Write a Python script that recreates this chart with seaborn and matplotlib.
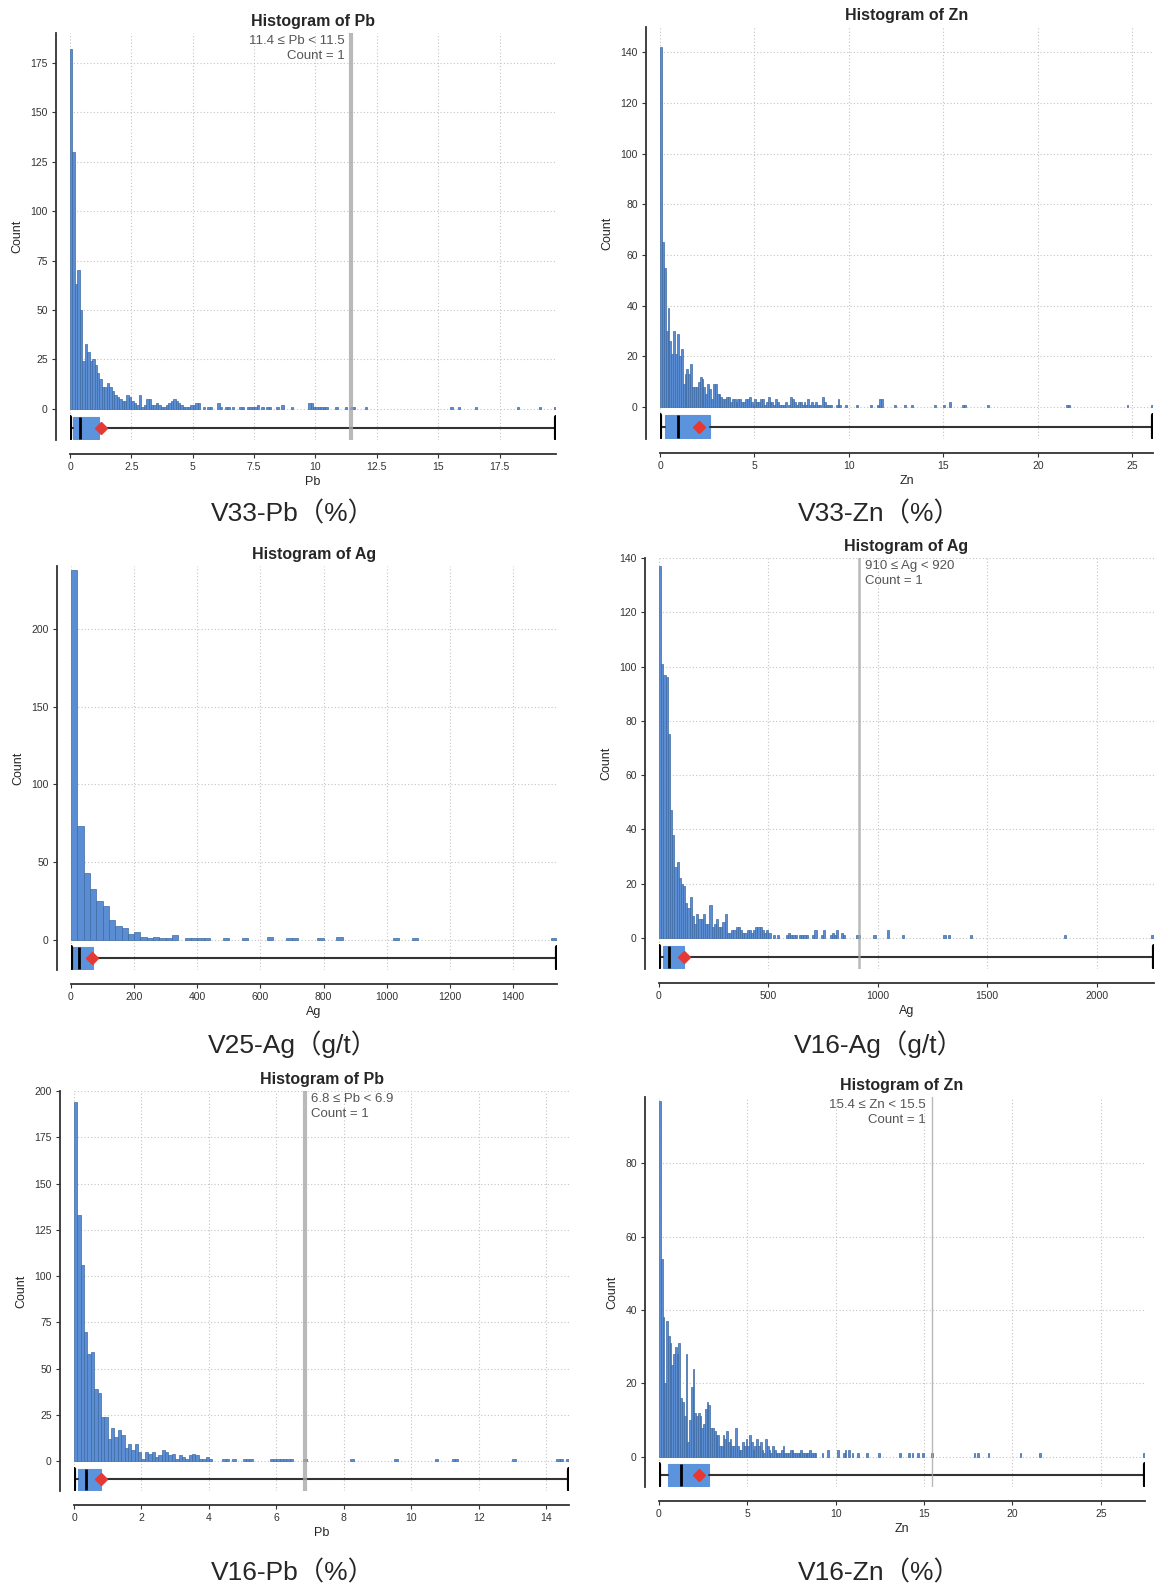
import numpy as np
import pandas as pd
import seaborn as sns
import matplotlib.pyplot as plt
from matplotlib.ticker import FuncFormatter

# ---- bin counts ----
# V33 Pb (%), 0.1 bins
pb33_head = [182, 130, 63, 70, 50, 24, 33, 29, 24, 25, 22, 18, 15, 11, 11, 13, 11, 9, 7, 6,
             5, 4, 4, 7, 6, 4, 3, 2, 7, 1, 2, 5, 5, 2, 2, 3, 2, 1, 1, 2,
             3, 4, 5, 4, 3, 2, 1, 1, 1, 2, 2, 3, 3]
pb33_tail_at = [5.4, 5.6, 5.7, 6.0, 6.1, 6.3, 6.4, 6.6, 6.9, 7.0, 7.2, 7.3, 7.4, 7.5, 7.6, 7.8, 8.0, 8.1,
                8.4, 8.6, 9.0, 9.7, 9.8, 9.9, 10.0, 10.1, 10.2, 10.3, 10.4, 10.8, 11.2, 11.4, 11.5, 12.0,
                15.5, 15.8, 16.5, 18.2, 19.1, 19.7]
pb33_tail_n = [1, 1, 1, 3, 1, 1, 1, 1, 1, 1, 1, 1, 1, 1, 2, 1, 1, 1,
               1, 2, 1, 3, 3, 1, 1, 1, 1, 1, 1, 1, 1, 1, 1, 1,
               1, 1, 1, 1, 1, 1]
pb33_box = [0.0, 0.11, 0.42, 1.18, 19.8]   # min, q1, median, q3, max
pb33_mean = 1.26

# V33 Zn (%), 0.1 bins
zn33_head = [142, 65, 55, 30, 39, 26, 21, 30, 21, 29, 20, 23, 9, 13, 15, 13, 17, 8, 8, 8,
             10, 12, 11, 8, 5, 9, 7, 3, 9, 9, 5, 5, 4, 3, 3, 4, 4, 2, 3, 3,
             2, 3, 3, 2, 2, 3, 3, 4, 2, 1, 3, 2, 2, 3, 3, 1, 2, 4, 2, 2,
             1, 3, 2, 1, 1, 1, 2, 0, 1, 4, 3, 2, 1, 2, 2, 1, 2, 1, 3, 1,
             2, 1, 2, 1, 1, 0, 4, 2, 1, 1, 1, 0, 0, 1, 3, 1, 0, 0, 1, 0]
zn33_tail_at = [10.4, 11.1, 11.5, 11.6, 11.7, 12.4, 12.9, 13.3, 14.5, 15.0, 15.3, 16.0, 16.1,
                17.3, 21.5, 21.6, 24.7, 26.0]
zn33_tail_n = [1, 1, 1, 3, 3, 1, 1, 1, 1, 1, 2, 1, 1, 1, 1, 1, 1, 1]
zn33_box = [0.0, 0.24, 0.97, 2.64, 26.1]
zn33_mean = 2.09

# V25 Ag (g/t), 20 g/t bins
ag25_head = [238, 73, 43, 33, 25, 22, 13, 9, 8, 4, 5, 2, 1, 2, 1, 1, 3]
ag25_tail_at = [360, 380, 400, 420, 480, 540, 620, 680, 700, 780, 840, 1020, 1080, 1520]
ag25_tail_n = [1, 1, 1, 1, 1, 1, 2, 1, 1, 1, 2, 1, 1, 1]
ag25_box = [0.0, 4.0, 25.0, 71.0, 1539.0]
ag25_mean = 65.0

# V16 Ag (g/t), 10 g/t bins
ag16_head = [137, 101, 97, 96, 75, 47, 38, 26, 28, 22, 20, 19, 13, 11, 15, 8, 5, 9, 7, 7,
             9, 5, 5, 12, 4, 5, 7, 4, 4, 6, 9, 2, 2, 3, 3, 4, 4, 3, 2, 2,
             3, 3, 2, 3, 4, 4, 4, 3, 2, 3]
ag16_tail_at = [500, 520, 540, 580, 590, 600, 610, 620, 640, 650, 660, 670, 700, 710, 740, 750,
                780, 790, 800, 810, 830, 840, 900, 910, 980, 1040, 1110, 1300, 1320, 1420, 1850, 2250]
ag16_tail_n = [2, 1, 1, 1, 2, 1, 1, 1, 1, 1, 1, 1, 1, 3, 1, 3,
               1, 2, 1, 3, 2, 1, 1, 1, 1, 3, 1, 1, 1, 1, 1, 1]
ag16_box = [0.0, 19.0, 46.0, 116.0, 2262.0]
ag16_mean = 114.0

# V16 Pb (%), 0.1 bins
pb16_head = [194, 133, 106, 70, 58, 59, 39, 37, 24, 24, 12, 18, 13, 17, 14, 7, 9, 6, 9, 5,
             1, 5, 4, 5, 2, 3, 6, 5, 3, 4, 1, 3, 2, 1, 3, 4, 3, 1, 1, 2, 1]
pb16_tail_at = [4.4, 4.5, 4.7, 5.0, 5.1, 5.2, 5.8, 5.9, 6.0, 6.1, 6.2, 6.3, 6.4, 6.8,
                8.2, 9.5, 10.7, 11.2, 11.3, 13.0, 14.3, 14.4, 14.6]
pb16_tail_n = [1] * 23
pb16_box = [0.0, 0.12, 0.35, 0.81, 14.68]
pb16_mean = 0.79

# V16 Zn (%), 0.1 bins
zn16_head = [97, 54, 38, 20, 37, 33, 31, 25, 28, 30, 28, 31, 16, 15, 11, 28, 4, 10, 19, 24,
             12, 11, 12, 11, 8, 9, 13, 15, 14, 8, 8, 7, 6, 6, 3, 3, 6, 5, 7, 4,
             5, 3, 3, 8, 3, 2, 2, 4, 3, 5, 3, 6, 4, 2, 3, 5, 3, 4, 2, 1,
             5, 3, 2, 1, 3, 2, 1, 1, 1, 2, 3, 1, 1, 1, 2, 2, 1, 1, 1, 1,
             2, 1, 1, 1, 1, 2, 1]
zn16_tail_at = [8.7, 8.8, 9.2, 9.5, 10.1, 10.4, 10.5, 10.7, 10.9, 11.2, 11.7, 12.4, 13.6, 14.1,
                14.3, 14.6, 14.9, 15.4, 17.8, 18.0, 18.6, 20.4, 21.5, 27.4]
zn16_tail_n = [1, 1, 1, 2, 2, 1, 2, 2, 1, 1, 1, 1, 1, 1, 1, 1, 1, 1, 1, 1, 1, 1, 1, 1]
zn16_box = [0.0, 0.49, 1.27, 2.82, 27.5]
zn16_mean = 2.27

BAR = '#5a8dd3'
EDGE = '#3f6aa3'
BOX = '#5b93dc'

panels = [
    dict(elem='Pb', caption='V33-Pb（%）', head=pb33_head, tail_at=pb33_tail_at, tail_n=pb33_tail_n,
         width=0.1, box=pb33_box, mean=pb33_mean, ylim=(-15.7, 190),
         yticks=np.arange(0, 176, 25), xticks=np.arange(0, 18, 2.5),
         rect=(70, 33, 486, 407), cap=(293, 514),
         mark=11.45, mark_lw=3, note='11.4 ≤ Pb < 11.5\nCount = 1', note_side='left'),
    dict(elem='Zn', caption='V33-Zn（%）', head=zn33_head, tail_at=zn33_tail_at, tail_n=zn33_tail_n,
         width=0.1, box=zn33_box, mean=zn33_mean, ylim=(-12.6, 150),
         yticks=np.arange(0, 141, 20), xticks=np.arange(0, 26, 5),
         rect=(660, 27, 493, 412), cap=(879, 514), mark=None),
    dict(elem='Ag', caption='V25-Ag（g/t）', head=ag25_head, tail_at=ag25_tail_at, tail_n=ag25_tail_n,
         width=20, box=ag25_box, mean=ag25_mean, ylim=(-19.3, 240.5),
         yticks=np.arange(0, 201, 50), xticks=np.arange(0, 1401, 200),
         rect=(71, 566, 486, 404), cap=(293, 1044), mark=None),
    dict(elem='Ag', caption='V16-Ag（g/t）', head=ag16_head, tail_at=ag16_tail_at, tail_n=ag16_tail_n,
         width=10, box=ag16_box, mean=ag16_mean, ylim=(-11.4, 140),
         yticks=np.arange(0, 141, 20), xticks=np.arange(0, 2001, 500),
         rect=(659, 558, 495, 411), cap=(879, 1044),
         mark=915, mark_lw=1.8, note='910 ≤ Ag < 920\nCount = 1', note_side='right'),
    dict(elem='Pb', caption='V16-Pb（%）', head=pb16_head, tail_at=pb16_tail_at, tail_n=pb16_tail_n,
         width=0.1, box=pb16_box, mean=pb16_mean, ylim=(-16.2, 200),
         yticks=np.arange(0, 201, 25), xticks=np.arange(0, 15, 2),
         rect=(74, 1091, 495, 400), cap=(293, 1573),
         mark=6.85, mark_lw=3, note='6.8 ≤ Pb < 6.9\nCount = 1', note_side='right'),
    dict(elem='Zn', caption='V16-Zn（%）', head=zn16_head, tail_at=zn16_tail_at, tail_n=zn16_tail_n,
         width=0.1, box=zn16_box, mean=zn16_mean, ylim=(-8.2, 98),
         yticks=np.arange(0, 81, 20), xticks=np.arange(0, 26, 5),
         rect=(659, 1097, 486, 390), cap=(879, 1573),
         mark=15.45, mark_lw=1, note='15.4 ≤ Zn < 15.5\nCount = 1', note_side='left'),
]


def hist_counts(head, tail_at, tail_n, width, vmax):
    nbins = int(np.ceil(vmax / width - 1e-9))
    counts = np.zeros(nbins)
    counts[:len(head)] = head
    for v, n in zip(tail_at, tail_n):
        counts[int(round(v / width))] += n
    edges = np.arange(nbins + 1) * width
    return edges, counts


sns.set_theme(style='ticks')
plt.rcParams['font.family'] = ['Liberation Sans', 'DejaVu Sans']

W, H = 1165, 1588
fig = plt.figure(figsize=(W / 100, H / 100), dpi=100)

for p in panels:
    x, y, w, h = p['rect']
    ax = fig.add_axes([x / W, 1 - (y + h) / H, w / W, h / H])

    mn, q1, med, q3, mx = p['box']
    edges, counts = hist_counts(p['head'], p['tail_at'], p['tail_n'], p['width'], mx)
    df = pd.DataFrame({'mid': (edges[:-1] + edges[1:]) / 2, 'n': counts})
    sns.histplot(data=df, x='mid', weights='n', bins=edges.tolist(), ax=ax, color=BAR,
                 edgecolor=EDGE, linewidth=0.5, alpha=1, zorder=2)
    for patch in ax.patches:
        if patch.get_height() == 0:
            patch.set_visible(False)

    # box plot under the bars
    ymin = p['ylim'][0]
    yc = ymin * 0.61
    bw = -ymin * 0.72
    ax.bxp([dict(whislo=mn, q1=q1, med=med, q3=q3, whishi=mx, mean=p['mean'], fliers=[])],
           positions=[yc], widths=[bw], capwidths=[bw], orientation='horizontal',
           showmeans=True, showfliers=False, patch_artist=True, manage_ticks=False,
           boxprops=dict(facecolor=BOX, edgecolor=BOX, linewidth=0.8),
           whiskerprops=dict(color='#333333', linewidth=1.5),
           capprops=dict(color='black', linewidth=3),
           medianprops=dict(color='black', linewidth=2),
           meanprops=dict(marker='D', markerfacecolor='#e53935', markeredgecolor='#e53935',
                          markersize=6),
           zorder=3)

    if p['mark'] is not None:
        ax.axvline(p['mark'], color='#a8a8a8', alpha=0.8, lw=p['mark_lw'], zorder=4)
        left = p['note_side'] == 'left'
        ax.annotate(p['note'], xy=(p['mark'], 1), xycoords=('data', 'axes fraction'),
                    xytext=(-4.5 if left else 4.5, -1.5), textcoords='offset points',
                    ha='right' if left else 'left', va='top', fontsize=9.5,
                    color='#555555', linespacing=1.3,
                    family=['Liberation Sans', 'DejaVu Sans'])

    ax.set_xlim(0, mx)
    ax.set_ylim(*p['ylim'])
    ax.set_yticks(p['yticks'])
    ax.set_xticks(p['xticks'])
    ax.xaxis.set_major_formatter(FuncFormatter(lambda v, _: f'{v:g}'))
    ax.grid(True, linestyle=(0, (1, 2)), color='#c4c4c4', linewidth=0.8)
    ax.set_axisbelow(True)

    sns.despine(ax=ax, offset=10)
    for side in ('left', 'bottom'):
        ax.spines[side].set_color('#333333')
        ax.spines[side].set_linewidth(1.3)
    ax.tick_params(labelsize=7.5, colors='#333333', length=3, width=0.8, pad=3)

    ax.set_title(f'Histogram of {p["elem"]}', fontsize=11.5, fontweight='bold', pad=5)
    ax.set_ylabel('Count', fontsize=9, labelpad=5)
    ax.set_xlabel(p['elem'], fontsize=9, labelpad=3)

    cx, cy = p['cap']
    fig.text(cx / W, 1 - cy / H, p['caption'], ha='center', va='center', fontsize=19,
             family=['Liberation Sans', 'Noto Sans CJK SC'])

fig.savefig('out.png', dpi=100)
